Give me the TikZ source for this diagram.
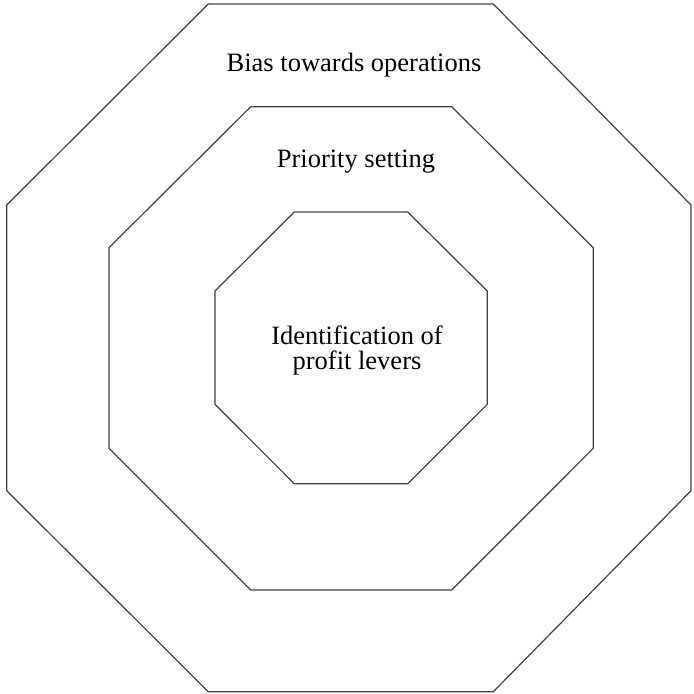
\documentclass[tikz,border=0pt]{standalone}
\usepackage{fontspec}
\setmainfont{Liberation Serif}
\begin{document}
\begin{tikzpicture}[x=0.5pt,y=-0.5pt,
  ring/.style={draw=black!75, line width=0.6pt, line join=miter},
  label/.style={font=\fontsize{13.25}{12.5}\selectfont, inner sep=0pt, align=center, anchor=base}]
  \useasboundingbox (0,0) rectangle (694,693);
  % outer ring
  \draw[ring] (208.3,4) -- (493.3,4) -- (691,205) -- (691,490.7) -- (493.3,691.7)
    -- (208.3,691.7) -- (6.7,490.7) -- (6.7,205) -- cycle;
  % middle ring
  \draw[ring] (250.7,106.7) -- (451.7,106.7) -- (593.3,247.7) -- (593.3,448.3)
    -- (451.7,590) -- (250.7,590) -- (109,448.3) -- (109,247.7) -- cycle;
  % inner ring
  \draw[ring] (294.3,212) -- (407.7,212) -- (487.3,291) -- (487.3,404.3)
    -- (407.7,483.7) -- (294.3,483.7) -- (215,404.3) -- (215,291) -- cycle;
  % ring labels (base anchor sits on the last line)
  \node[label] (bias) at (354,71.5) {Bias towards operations};
  \node[label] (prio) at (356,167.5) {Priority setting};
  \node[label] (ident) at (357,369.3) {Identification of\\profit levers};
\end{tikzpicture}
\end{document}
